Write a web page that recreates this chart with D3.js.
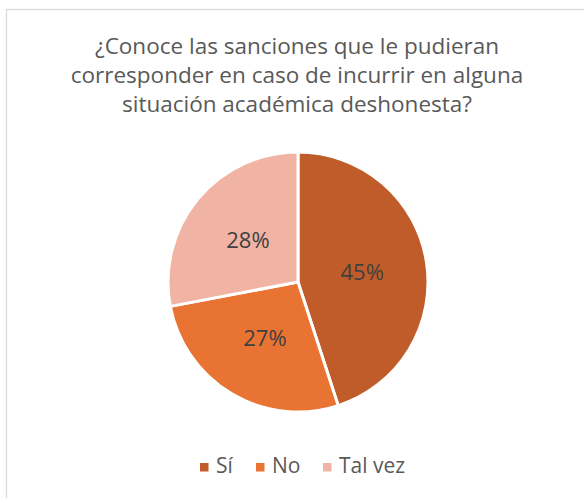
<!DOCTYPE html>
<html>
<head>
<meta charset="utf-8">
<script src="https://cdn.jsdelivr.net/npm/d3@7"></script>
<style>
  body { margin: 0; background: #fff; }
  svg { display: block; font-family: "Open Sans", sans-serif; }
</style>
</head>
<body>
<svg id="chart" width="584" height="498"></svg>
<script>
// data
let categories = ['Sí', 'No', 'Tal vez'];
let values = [45, 27, 28];
let colors = ['#C05C29', '#E97333', '#F1B3A3'];
let title_lines = [
    '¿Conoce las sanciones que le pudieran',
    'corresponder en caso de incurrir en alguna',
    'situación académica deshonesta?'
];

const width = 584;
const height = 498;
const cx = 298, cy = 282, radius = 130;

const svg = d3.select('#chart');

// chart frame (runs off right/bottom edges)
svg.append('rect')
    .attr('x', 6.5)
    .attr('y', 9.5)
    .attr('width', 600)
    .attr('height', 600)
    .attr('fill', '#fff')
    .attr('stroke', '#d9d9d9')
    .attr('stroke-width', 1.3);

// title
svg.append('g')
    .selectAll('text')
    .data(title_lines)
    .join('text')
    .attr('x', cx - 1)
    .attr('y', (d, i) => 54 + i * 29)
    .attr('text-anchor', 'middle')
    .attr('font-size', 22.5)
    .attr('fill', '#595959')
    .text(d => d);

const color = d3.scaleOrdinal().domain(categories).range(colors);

const pie = d3.pie()
    .sort(null)
    .value((d, i) => values[i]);

const arcs = pie(categories);

const arc = d3.arc().innerRadius(0).outerRadius(radius);
const labelArc = d3.arc().innerRadius(radius / 2).outerRadius(radius / 2);

const g = svg.append('g')
    .attr('transform', 'translate(' + cx + ',' + cy + ')');

g.selectAll('path')
    .data(arcs)
    .join('path')
    .attr('d', arc)
    .attr('fill', d => color(d.data))
    .attr('stroke', '#fff')
    .attr('stroke-width', 3);

const total = d3.sum(values);
g.selectAll('text')
    .data(arcs)
    .join('text')
    .attr('transform', d => 'translate(' + labelArc.centroid(d) + ')')
    .attr('text-anchor', 'middle')
    .attr('dy', '0.36em')
    .attr('font-size', 22)
    .attr('fill', '#404040')
    .text(d => Math.round(d.value / total * 100) + '%');

// legend
const legendX = [200, 256, 323];
const legend = svg.append('g')
    .selectAll('g')
    .data(categories)
    .join('g')
    .attr('transform', (d, i) => 'translate(' + legendX[i] + ',463)');

legend.append('rect')
    .attr('width', 8.5)
    .attr('height', 8.5)
    .attr('fill', d => color(d));

legend.append('text')
    .attr('x', 16)
    .attr('y', 10)
    .attr('font-size', 21)
    .attr('fill', '#595959')
    .text(d => d);
</script>
</body>
</html>
